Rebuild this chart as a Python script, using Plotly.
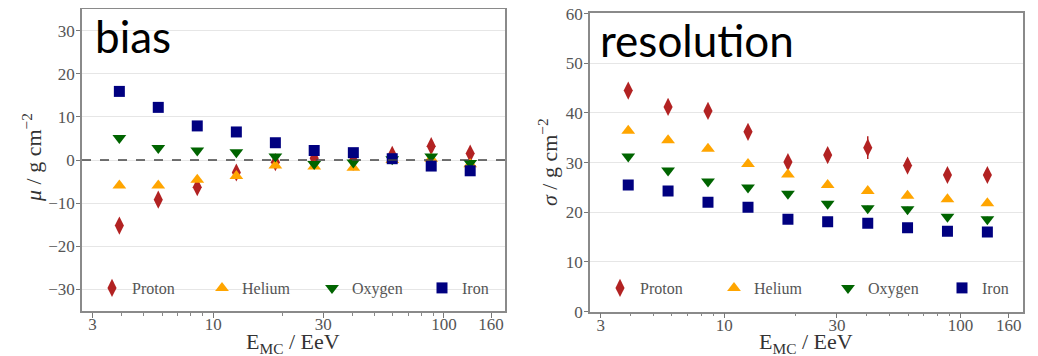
import math
import plotly.graph_objects as go

# ---------------- data ----------------
energy = [3.92, 5.78, 8.53, 12.6, 18.6, 27.4, 40.5, 59.7, 88.1, 130.0]
species = ["Proton", "Helium", "Oxygen", "Iron"]

bias_proton = [-15.2, -9.2, -6.3, -2.9, -0.5, 0.4, -0.1, 1.2, 3.2, 1.5]
bias_helium = [-5.9, -5.9, -4.6, -3.7, -1.3, -1.5, -1.8, 0.0, 0.3, -1.0]
bias_oxygen = [5.1, 2.8, 2.2, 1.8, 0.8, -0.9, -0.6, 0.2, 0.8, -0.7]
bias_iron = [15.9, 12.2, 7.9, 6.5, 4.0, 2.2, 1.7, 0.3, -1.4, -2.5]

res_proton = [44.5, 41.2, 40.4, 36.2, 30.1, 31.5, 33.0, 29.4, 27.5, 27.5]
res_helium = [36.4, 34.5, 32.8, 29.7, 27.6, 25.5, 24.3, 23.3, 22.6, 21.8]
res_oxygen = [31.2, 28.4, 26.2, 25.0, 23.7, 21.7, 20.8, 20.6, 19.1, 18.6]
res_iron = [25.5, 24.3, 22.0, 21.0, 18.6, 18.1, 17.8, 16.9, 16.2, 16.0]

err_proton = [0.9, 0.9, 1.0, 1.0, 1.0, 1.0, 2.3, 1.0, 0.9, 1.0]
err_helium = [0.4, 0.4, 0.4, 0.4, 0.4, 0.4, 0.5, 0.5, 0.5, 0.5]
err_oxygen = [0.4, 0.4, 0.4, 0.4, 0.4, 0.4, 0.5, 0.5, 0.5, 0.5]
err_iron = [0.4, 0.4, 0.4, 0.4, 0.4, 0.4, 0.5, 0.5, 0.5, 0.5]

x_tickvals = [3, 10, 30, 100, 160]
x_minor = [4, 5, 6, 7, 8, 9, 20, 40, 50, 60, 70, 80, 90]
bias_ticks = [-30, -20, -10, 0, 10, 20, 30]
res_ticks = [0, 10, 20, 30, 40, 50, 60]

colors = ["#b22222", "#ffa500", "#006400", "#000080"]
symbols = ["diamond-tall", "triangle-up", "triangle-down", "square"]
sizes = [13, 12, 12, 11]

bias_data = [bias_proton, bias_helium, bias_oxygen, bias_iron]
res_data = [res_proton, res_helium, res_oxygen, res_iron]
err_data = [err_proton, err_helium, err_oxygen, err_iron]

# page body has an 8px default margin; layout positions below are given in window pixels
OFF = 8
W, H = 1038 - OFF, 356 - OFF


def px(x):
    return (x - OFF) / W


def py(y):
    return 1 - (y - OFF) / H


fig = go.Figure()

for i, name in enumerate(species):
    fig.add_trace(go.Scatter(
        x=energy, y=bias_data[i], mode="markers", name=name,
        marker=dict(symbol=symbols[i], color=colors[i], size=sizes[i], line=dict(width=0)),
        error_y=dict(type="data", array=err_data[i], color=colors[i], thickness=1.5, width=0),
        xaxis="x", yaxis="y", legend="legend"))
for i, name in enumerate(species):
    fig.add_trace(go.Scatter(
        x=energy, y=res_data[i], mode="markers", name=name,
        marker=dict(symbol=symbols[i], color=colors[i], size=sizes[i], line=dict(width=0)),
        error_y=dict(type="data", array=err_data[i], color=colors[i], thickness=1.5, width=0),
        xaxis="x2", yaxis="y2", legend="legend2"))

serif = "Liberation Serif, DejaVu Serif, serif"
tickfont = dict(family=serif, size=17, color="#555555")
xrange_log = [math.log10(2.7), math.log10(184)]

xcommon = dict(type="log", range=xrange_log, tickmode="array", tickvals=x_tickvals,
               ticktext=[str(v) for v in x_tickvals],
               ticks="outside", ticklen=5, tickcolor="#777777", tickfont=tickfont,
               ticklabelstandoff=-8,
               showgrid=False, zeroline=False, showline=True, linecolor="#8a8a8a", linewidth=1.5,
               mirror=True, automargin=False,
               minor=dict(tickvals=x_minor, ticks="outside", ticklen=3, tickcolor="#888888", showgrid=False))
ycommon = dict(tickmode="array", ticks="outside", ticklen=4, tickcolor="#777777", tickfont=tickfont,
               ticklabelstandoff=-2, ticklabeloverflow="allow",
               showgrid=True, gridcolor="#e6e6e6", gridwidth=1, zeroline=False, showline=True,
               linecolor="#8a8a8a", linewidth=1.5, mirror=True, automargin=False)

legfont = dict(family=serif, size=16, color="#555555")
fig.update_layout(
    width=W, height=H, margin=dict(l=0, r=0, t=0, b=0, autoexpand=False),
    paper_bgcolor="white", plot_bgcolor="white",
    xaxis=dict(domain=[px(82), px(505)], anchor="y", **xcommon),
    yaxis=dict(domain=[py(311), py(9)], anchor="x", range=[-35, 35],
               tickvals=bias_ticks, **ycommon),
    xaxis2=dict(domain=[px(590), px(1023)], anchor="y2", **xcommon),
    yaxis2=dict(domain=[py(311.7), py(13.3)], anchor="x2", range=[-0.02, 60.05],
                tickvals=res_ticks, **ycommon),
    legend=dict(orientation="h", x=px(92), y=py(288), xanchor="left", yanchor="middle",
                bgcolor="rgba(0,0,0,0)", entrywidth=65, entrywidthmode="pixels", font=legfont),
    legend2=dict(orientation="h", x=px(600), y=py(288), xanchor="left", yanchor="middle",
                 bgcolor="rgba(0,0,0,0)", entrywidth=69, entrywidthmode="pixels", font=legfont),
    showlegend=True,
)

fig.add_shape(type="line", xref="x domain", yref="y", x0=0, x1=1, y0=0, y1=0,
              line=dict(color="#444444", width=1.5, dash="dash"))

titlefont = dict(family=serif, size=22, color="#333333")
fig.add_annotation(text="E<sub>MC</sub> / EeV", xref="paper", yref="paper",
                   x=px(293), y=py(359), xanchor="center", yanchor="bottom", showarrow=False, font=titlefont)
fig.add_annotation(text="E<sub>MC</sub> / EeV", xref="paper", yref="paper",
                   x=px(806), y=py(359), xanchor="center", yanchor="bottom", showarrow=False, font=titlefont)
fig.add_annotation(text="<i>μ</i> / g cm<sup>−2</sup>", xref="paper", yref="paper",
                   x=px(32), y=py(158), xanchor="center", yanchor="middle", textangle=-90,
                   showarrow=False, font=titlefont)
fig.add_annotation(text="<i>σ</i> / g cm<sup>−2</sup>", xref="paper", yref="paper",
                   x=px(548), y=py(162), xanchor="center", yanchor="middle", textangle=-90,
                   showarrow=False, font=titlefont)

bigfont = dict(family="Lato, Liberation Sans, Arial, sans-serif", size=44, color="black")
fig.add_annotation(text="bias", xref="paper", yref="paper", x=px(93), y=py(8),
                   xanchor="left", yanchor="top", showarrow=False, font=bigfont)
fig.add_annotation(text="resolution", xref="paper", yref="paper", x=px(598), y=py(12),
                   xanchor="left", yanchor="top", showarrow=False, font=bigfont)

fig.write_html("out.html")
